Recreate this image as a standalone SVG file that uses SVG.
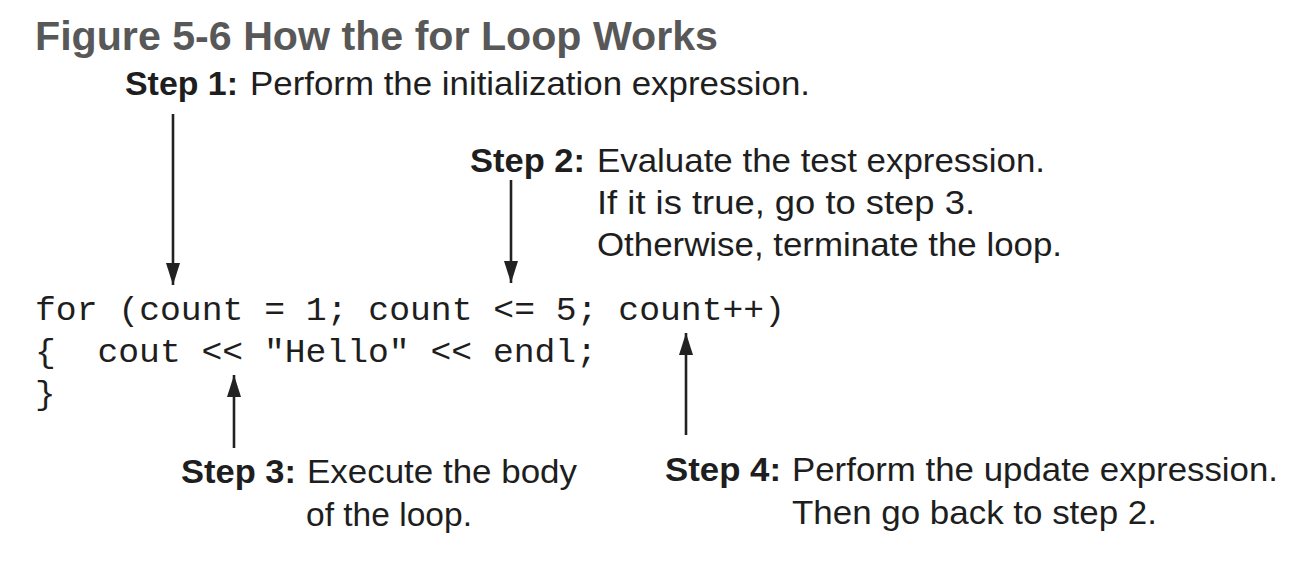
<svg xmlns="http://www.w3.org/2000/svg" width="1301" height="575" viewBox="0 0 1301 575">
<defs>
<style>
.t{font-family:"Liberation Sans",Arial,sans-serif;font-size:33px;fill:#1e1e1e}
.b{font-weight:bold}
.title{font-family:"Liberation Sans",Arial,sans-serif;font-size:40px;font-weight:bold;fill:#585858}
.code{font-family:"Liberation Mono","DejaVu Sans Mono",monospace;font-size:34px;fill:#1e1e1e;white-space:pre}
.ln{stroke:#222;stroke-width:2.6;fill:none}
</style>
<marker id="ah" viewBox="0 0 22 14" refX="22" refY="7" markerWidth="22" markerHeight="14" markerUnits="userSpaceOnUse" orient="auto">
<path d="M0,0 L22,7 L0,14 Z" fill="#222"/>
</marker>
</defs>
<rect width="1301" height="575" fill="#fff"/>
<text class="title" x="35" y="50" textLength="683" lengthAdjust="spacingAndGlyphs">Figure 5-6 How the for Loop Works</text>

<g id="step1">
<text class="t b" x="125" y="95" textLength="113" lengthAdjust="spacingAndGlyphs">Step 1:</text>
<text class="t" x="250" y="95" textLength="560" lengthAdjust="spacingAndGlyphs">Perform the initialization expression.</text>
</g>
<g id="step2">
<text class="t b" x="470" y="172" textLength="115" lengthAdjust="spacingAndGlyphs">Step 2:</text>
<text class="t" x="597" y="172" textLength="448" lengthAdjust="spacingAndGlyphs">Evaluate the test expression.</text>
<text class="t" x="597" y="214" textLength="378" lengthAdjust="spacingAndGlyphs">If it is true, go to step 3.</text>
<text class="t" x="597" y="256" textLength="465" lengthAdjust="spacingAndGlyphs">Otherwise, terminate the loop.</text>
</g>
<g id="code">
<text class="code" x="35" y="320" textLength="750" lengthAdjust="spacingAndGlyphs">for (count = 1; count &lt;= 5; count++)</text>
<text class="code" x="35" y="362" xml:space="preserve" textLength="562" lengthAdjust="spacingAndGlyphs">{  cout &lt;&lt; "Hello" &lt;&lt; endl;</text>
<text class="code" x="35" y="404">}</text>
</g>
<g id="step3">
<text class="t b" x="181" y="483" textLength="115" lengthAdjust="spacingAndGlyphs">Step 3:</text>
<text class="t" x="307" y="483" textLength="270" lengthAdjust="spacingAndGlyphs">Execute the body</text>
<text class="t" x="306" y="526" textLength="166" lengthAdjust="spacingAndGlyphs">of the loop.</text>
</g>
<g id="step4">
<text class="t b" x="665" y="481" textLength="116" lengthAdjust="spacingAndGlyphs">Step 4:</text>
<text class="t" x="792" y="481" textLength="486" lengthAdjust="spacingAndGlyphs">Perform the update expression.</text>
<text class="t" x="792" y="524" textLength="365" lengthAdjust="spacingAndGlyphs">Then go back to step 2.</text>
</g>
<g id="connectors">
<line class="ln" x1="173" y1="114" x2="173" y2="285" marker-end="url(#ah)"/>
<line class="ln" x1="511" y1="180" x2="511" y2="283" marker-end="url(#ah)"/>
<line class="ln" x1="234" y1="448" x2="234" y2="375" marker-end="url(#ah)"/>
<line class="ln" x1="686" y1="435" x2="686" y2="333" marker-end="url(#ah)"/>
</g>
</svg>
